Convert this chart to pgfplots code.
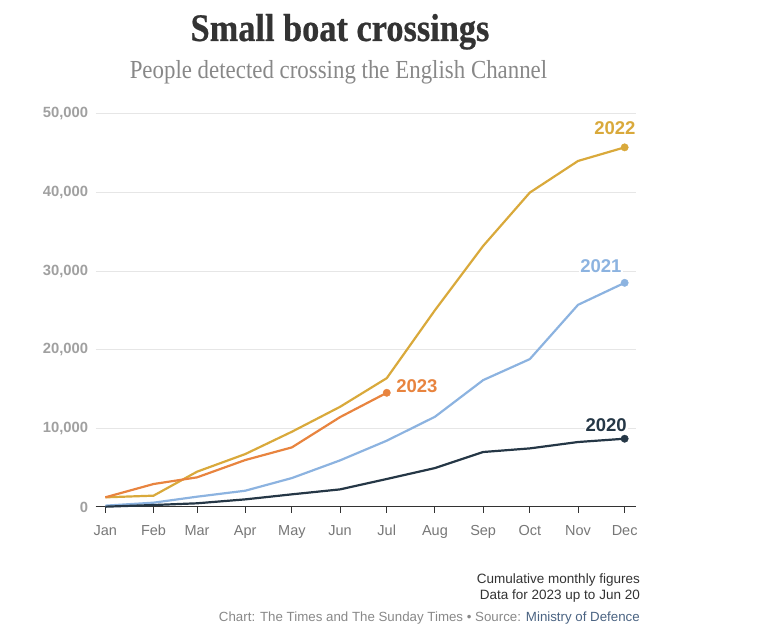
\documentclass[border=0pt]{standalone}
\usepackage{pgfplots}
\pgfplotsset{compat=1.18}
\usepackage{fontspec}
\setmainfont{Liberation Sans}
\newfontfamily\titlefont[FakeStretch=0.88]{Liberation Serif}
\newfontfamily\titleboldfont[FakeStretch=0.88, FakeBold=0.6]{Liberation Serif Bold}
\definecolor{cgold}{HTML}{D9A93B}
\definecolor{cblue}{HTML}{8CB3E0}
\definecolor{corange}{HTML}{E8843F}
\definecolor{cdark}{HTML}{253746}
\definecolor{tgrid}{HTML}{E6E6E6}
\definecolor{ytk}{HTML}{A0A0A0}
\definecolor{xtk}{HTML}{777777}
\definecolor{ttl}{HTML}{333333}
\definecolor{sub}{HTML}{888888}
\definecolor{src}{HTML}{4A6382}
\begin{document}
\begin{tikzpicture}[x=1pt,y=1pt]
\path[use as bounding box] (0,0) rectangle (764,637);
% title block (y measured from bottom: 637 - pixel row)
\node[anchor=base, text=ttl, inner sep=0] at (340,596) {\titleboldfont\fontsize{39}{44}\selectfont Small boat crossings};
\node[anchor=base, text=sub, inner sep=0] at (338.5,558.5) {\titlefont\fontsize{26}{30}\selectfont People detected crossing the English Channel};
\begin{axis}[
  at={(95.7pt,130pt)}, anchor=south west,
  scale only axis, width=540.3pt, height=393.3pt,
  xmin=-6.2, xmax=341.3, ymin=0, ymax=50000,
  clip=false,
  axis x line=bottom, axis y line=left,
  axis line style={-},
  x axis line style={draw=ttl, line width=1pt},
  y axis line style={draw=none},
  xtick={0,31,59,90,120,151,181,212,243,273,304,334},
  xticklabels={Jan,Feb,Mar,Apr,May,Jun,Jul,Aug,Sep,Oct,Nov,Dec},
  xtick align=outside,
  major tick length=6pt,
  xtick style={draw=ttl, line width=1pt},
  ytick={0,10000,20000,30000,40000,50000},
  ytick style={draw=none},
  ymajorgrids, grid style={draw=tgrid, line width=1pt},
  scaled y ticks=false,
  /pgf/number format/assume math mode=true,
  yticklabel style={/pgf/number format/1000 sep={,}, text=ytk, font=\bfseries\fontsize{14.8}{16}\selectfont, xshift=-1pt},
  xticklabel style={text=xtk, font=\fontsize{14.5}{16}\selectfont, anchor=base, yshift=-22.5pt},
]
\addplot[cgold, line width=2.2pt] coordinates {(0,1230) (31,1440) (59,4490) (90,6730) (120,9570) (151,12740) (181,16380) (212,25020) (243,33190) (273,39970) (304,43990) (334,45720)};
\addplot[cblue, line width=2.2pt] coordinates {(0,170) (31,550) (59,1310) (90,2070) (120,3680) (151,5930) (181,8430) (212,11470) (243,16130) (273,18800) (304,25700) (334,28500)};
\addplot[cdark, line width=2.2pt] coordinates {(0,40) (31,250) (59,470) (90,970) (120,1610) (151,2240) (181,3560) (212,4950) (243,6990) (273,7450) (304,8260) (334,8680)};
\addplot[corange, line width=2.2pt] coordinates {(0,1230) (31,2920) (59,3770) (90,5970) (120,7580) (151,11430) (181,14520)};
\addplot[cgold, only marks, mark=*, mark size=3.7pt] coordinates {(334,45720)};
\addplot[cblue, only marks, mark=*, mark size=3.7pt] coordinates {(334,28500)};
\addplot[cdark, only marks, mark=*, mark size=3.7pt] coordinates {(334,8680)};
\addplot[corange, only marks, mark=*, mark size=3.7pt] coordinates {(181,14520)};
\node[text=cgold, fill=white, inner sep=1pt, font=\bfseries\fontsize{18.5}{20}\selectfont] at ([xshift=-9.7pt, yshift=19pt]axis cs:334,45720) {2022};
\node[text=cblue, fill=white, inner sep=1pt, font=\bfseries\fontsize{18.5}{20}\selectfont] at ([xshift=-23.7pt, yshift=16.7pt]axis cs:334,28500) {2021};
\node[text=cdark, fill=white, inner sep=1pt, font=\bfseries\fontsize{18.5}{20}\selectfont] at ([xshift=-18.5pt, yshift=13.7pt]axis cs:334,8680) {2020};
\node[text=corange, fill=white, inner sep=1pt, anchor=west, font=\bfseries\fontsize{18.5}{20}\selectfont] at ([xshift=8.4pt, yshift=7pt]axis cs:181,14520) {2023};
\end{axis}
\node[anchor=base east, text=ttl, inner sep=0, font=\fontsize{13.5}{15}\selectfont] at (640,53) {Cumulative monthly figures};
\node[anchor=base east, text=ttl, inner sep=0, font=\fontsize{13.5}{15}\selectfont] at (640,37) {Data for 2023 up to Jun 20};
\node[anchor=base east, text=sub, inner sep=0, font=\fontsize{13.3}{15}\selectfont] at (640,15) {Chart: The Times and The Sunday Times • Source: \textcolor{src}{Ministry of Defence}};
\end{tikzpicture}
\end{document}
